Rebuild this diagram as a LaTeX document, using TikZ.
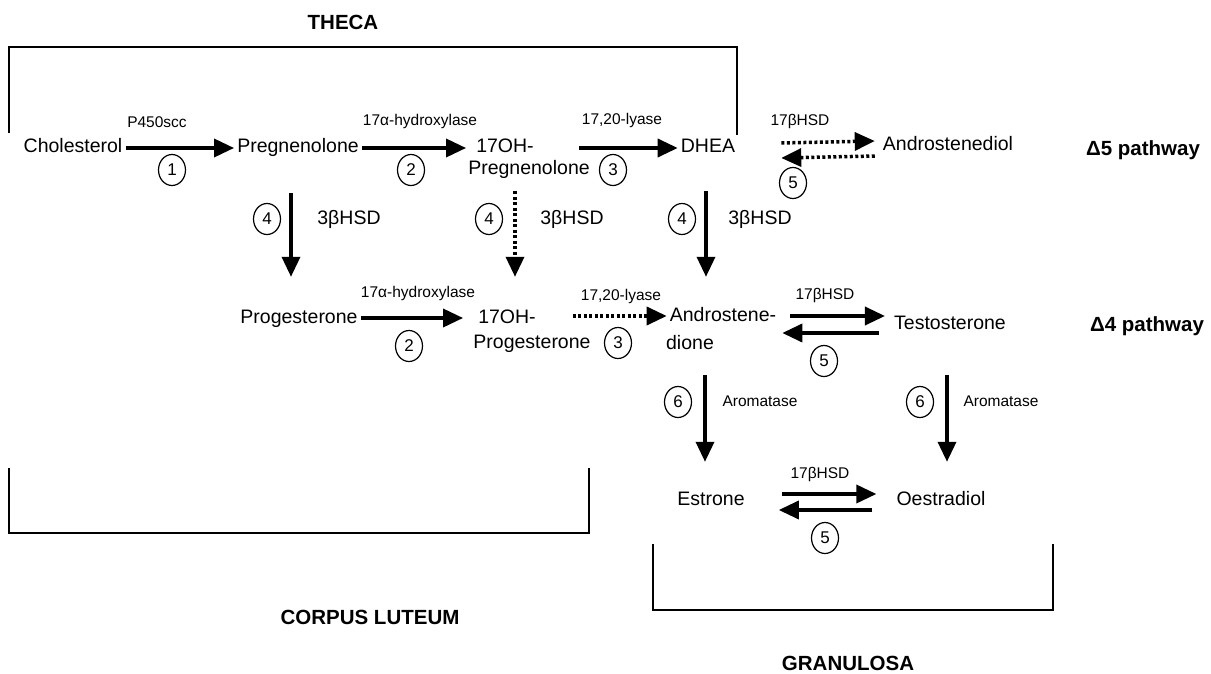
\documentclass[tikz,border=0pt]{standalone}
\usepackage{fontspec}
\setmainfont{Liberation Sans}
\usetikzlibrary{arrows.meta,shapes.geometric}
\begin{document}
\begin{tikzpicture}[x=1pt,y=-1pt,
    mol/.style={font=\fontsize{19.5}{23}\selectfont,text height=14pt,text depth=4pt,inner sep=3pt},
    enz/.style={font=\fontsize{15.5}{18}\selectfont,inner sep=1pt},
    region/.style={font=\bfseries\fontsize{20.5}{24}\selectfont,inner sep=1pt},
    num/.style={draw,ellipse,line width=1.2pt,minimum width=27pt,minimum height=31pt,inner sep=0pt,font=\fontsize{17}{19}\selectfont},
    rxn/.style={line width=3.5pt,-{Triangle[length=20pt,width=18pt]}},
    weak/.style={rxn,dash pattern=on 3pt off 2.5pt},
    wall/.style={line width=1.3pt}]
  \useasboundingbox (0,0) rectangle (1211,674);
  \draw
    (73,148) node[mol] (chol){Cholesterol}
    (298,148) node[mol] (preg){Pregnenolone}
    (505,148) node[mol] (ohpreg){17OH-}
    (529,170) node[mol] (ohpregl){Pregnenolone}
    (708,148) node[mol] (dhea){DHEA}
    (948,146) node[mol] (adiol){Androstenediol}
    (299,318) node[mol] (prog){Progesterone}
    (507,318) node[mol] (ohprog){17OH-}
    (532,343) node[mol] (ohprogl){Progesterone}
    (723,316) node[mol] (andro){Androstene-}
    (690,344) node[mol] (androl){dione}
    (950,324) node[mol] (testo){Testosterone}
    (711,500) node[mol] (estr){Estrone}
    (941,500) node[mol] (oestr){Oestradiol};
  \draw
    (157,122) node[enz] (e1){P450scc}
    (420,121) node[enz] (e2a){17α-hydroxylase}
    (622,120) node[enz] (e3a){17,20-lyase}
    (800,121) node[enz] (e5a){17βHSD}
    (418,293) node[enz] (e2b){17α-hydroxylase}
    (621,296) node[enz] (e3b){17,20-lyase}
    (825,295) node[enz] (e5b){17βHSD}
    (820,474) node[enz] (e5c){17βHSD}
    (760,401) node[enz] (e6a){Aromatase}
    (1001,401) node[enz] (e6b){Aromatase}
    (349,219) node[mol] (h4a){3βHSD}
    (572,219) node[mol] (h4b){3βHSD}
    (760,219) node[mol] (h4c){3βHSD};
  \draw
    (172,170) node[num] (n1){1}
    (411,170) node[num] (n2a){2}
    (613,170) node[num] (n3a){3}
    (793,183) node[num] (n5a){5}
    (267,219) node[num] (n4a){4}
    (489,219) node[num] (n4b){4}
    (682,219) node[num] (n4c){4}
    (409,346) node[num] (n2b){2}
    (618,343) node[num] (n3b){3}
    (824,361) node[num] (n5b){5}
    (678,402) node[num] (n6a){6}
    (920,402) node[num] (n6b){6}
    (825,538) node[num] (n5c){5};
  \draw
    (343,22) node[region] (theca){THECA}
    (370,617) node[region] (cl){CORPUS LUTEUM}
    (848,663) node[region] (gran){GRANULOSA}
    (1143,150) node[region] (d5){Δ5 pathway}
    (1147,326) node[region] (d4){Δ4 pathway};
  \begin{scope}[wall]
    \draw (9,133) -- (9,47) -- (737,47) -- (737,135);
    \draw (9,468) -- (9,533) -- (589,533) -- (589,468);
    \draw (653,544) -- (653,610) -- (1053,610) -- (1053,544);
  \end{scope}
  \begin{scope}[rxn]
    \draw (chol) -- (preg);
    \draw[shorten >=7pt] (preg.east) -- (preg.east -| ohpreg.west);
    \draw ([xshift=-14pt]ohpregl.east |- dhea.west) -- (dhea.west);
    \draw[shorten <=33pt,shorten >=29pt] ([xshift=-7pt]preg.south) -- ([xshift=-8pt]prog.north);
    \draw[weak,shorten <=9pt,shorten >=29pt] ([xshift=-14pt]ohpregl.south) -- ([xshift=8pt]ohprog.north);
    \draw[shorten <=31pt,shorten >=27pt] ([xshift=-2pt]dhea.south) -- ([xshift=-17pt]andro.north);
    \draw[weak] ([xshift=43pt,yshift=5pt]dhea.east) -- ([xshift=-5pt,yshift=5pt]adiol.west);
    \draw[weak] ([xshift=-5pt,yshift=-10pt]adiol.west) -- ([xshift=43pt,yshift=-10pt]dhea.east);
    \draw[shorten >=12pt] (prog) -- (ohprog);
    \draw[weak] ([xshift=-21pt]ohprogl.east |- andro.west) -- (andro.west);
    \draw ([xshift=11pt]andro.east) -- ([xshift=-6pt,yshift=8pt]testo.west);
    \draw ([xshift=-12pt,yshift=-9pt]testo.west) -- ([xshift=3pt,yshift=-17pt]andro.east);
    \draw[shorten <=19pt,shorten >=26pt] ([xshift=15pt]androl.south) -- ([xshift=-6pt]estr.north);
    \draw[shorten <=39pt,shorten >=26pt] ([xshift=-3pt]testo.south) -- ([xshift=6pt]oestr.north);
    \draw ([xshift=34pt,yshift=6pt]estr.east) -- ([xshift=-17pt,yshift=6pt]oestr.west);
    \draw ([xshift=-21pt,yshift=-10pt]oestr.west) -- ([xshift=31pt,yshift=-10pt]estr.east);
  \end{scope}
\end{tikzpicture}
\end{document}
